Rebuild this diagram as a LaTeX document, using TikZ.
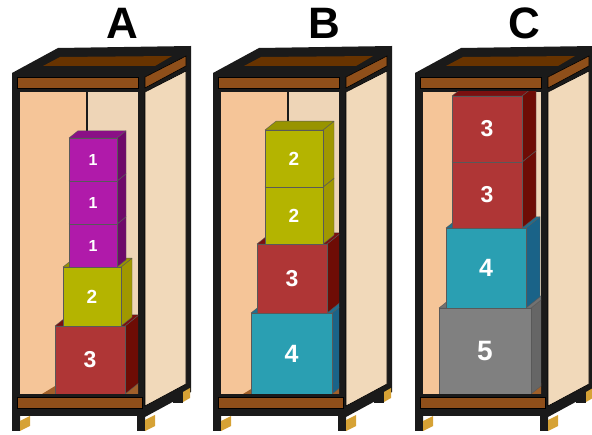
\documentclass[tikz,border=0pt]{standalone}
\usepackage{fontspec}
\setmainfont{Liberation Sans}

\definecolor{beamc}{HTML}{8F4F1A}
\definecolor{lidc}{HTML}{673300}
\definecolor{wallL}{HTML}{F5C598}
\definecolor{wallR}{HTML}{EED5B7}
\definecolor{sidec}{HTML}{F1D9BA}
\definecolor{floorc}{HTML}{A0602A}
\definecolor{legc}{HTML}{D6A235}
\definecolor{topc}{HTML}{1A1A1A}
\definecolor{magF}{HTML}{B01AAA}
\definecolor{magS}{HTML}{6E0A6A}
\definecolor{magT}{HTML}{8A1086}
\definecolor{olvF}{HTML}{B4B400}
\definecolor{olvS}{HTML}{A09800}
\definecolor{olvT}{HTML}{989400}
\definecolor{redF}{HTML}{AF3636}
\definecolor{redS}{HTML}{6E0C05}
\definecolor{redT}{HTML}{7A1010}
\definecolor{teaF}{HTML}{2A9FB2}
\definecolor{teaS}{HTML}{1A6388}
\definecolor{teaT}{HTML}{1F6F90}
\definecolor{gryF}{HTML}{808080}
\definecolor{gryS}{HTML}{666666}
\definecolor{gryT}{HTML}{727272}

\tikzset{
  beam/.style={fill=beamc, draw=black, line width=0.6pt},
  panel/.style={draw=black, line width=0.6pt},
  leg/.style={fill=legc},
  facet/.style={draw=black!65, line width=0.4pt, line join=round},
  num/.style={text=white, inner sep=0pt},
  title/.style={font=\fontsize{44}{44}\selectfont\bfseries}
}

% name, x, bottom, width, height, depth, colour, label, size
\newcommand{\crate}[9]{%
  \filldraw[facet, fill=#7S] (#2+#4,#3) -- (#2+#4+#6,#3-0.8*#6)
    -- (#2+#4+#6,#3-#5-0.8*#6) -- (#2+#4,#3-#5) -- cycle;
  \filldraw[facet, fill=#7T] (#2,#3-#5) -- (#2+#4,#3-#5)
    -- (#2+#4+#6,#3-#5-0.8*#6) -- (#2+#6,#3-#5-0.8*#6) -- cycle;
  \filldraw[facet, fill=#7F] (#2,#3) rectangle (#2+#4,#3-#5);
  \node[num, font=\fontsize{#9}{#9}\selectfont\bfseries] (#1) at (#2+0.5*#4,#3-0.5*#5) {#8};
}

\begin{document}
\begin{tikzpicture}[x=1pt, y=-1pt]
  \useasboundingbox (0,0) rectangle (592,435);

  \foreach \off/\lab/\tx in {0/A/122, 201/B/324, 403/C/524} {
    \node[title] (lbl\lab) at (\tx,23) {\lab};
    \begin{scope}[xshift=\off]
      % frame
      \fill[topc] (12,73) -- (58,48) -- (191,46) -- (191,392) -- (145,417)
        -- (145,431) -- (137,431) -- (137,416) -- (20,416) -- (20,431)
        -- (12,431) -- cycle;
      \fill[topc] (173,390) rectangle (183,403);
      \fill[lidc] (43,66) -- (60,57) -- (172,56) -- (155,66) -- cycle;
      \filldraw[beam] (17,77) rectangle (138,88);
      \filldraw[beam] (145,77) -- (186,56) -- (186,66) -- (145,88) -- cycle;
      % inside
      \fill[wallL] (20,92) rectangle (86,394);
      \fill[wallR] (88,92) rectangle (138,394);
      \fill[floorc] (42,394) -- (60,383) -- (138,383) -- (138,394) -- cycle;
      \filldraw[beam] (17,397) rectangle (142,408);
      \filldraw[panel, fill=sidec] (145,92) -- (186,71) -- (186,384)
        -- (145,406) -- cycle;
      % legs
      \fill[leg] (20,431) -- (20,421) -- (30,416) -- (30,426) -- cycle;
      \fill[leg] (145,431) -- (145,420) -- (155,415) -- (155,426) -- cycle;
      \fill[leg] (183,402) -- (183,392) -- (190,388) -- (190,398) -- cycle;
    \end{scope}
  }

  % boxes in A
  \begin{scope}
    \clip (20,92) rectangle (138,394);
    \crate{a3}{55}{394}{70}{68}{14}{red}{3}{23}
    \crate{a2}{63}{326}{58}{59}{11}{olv}{2}{19}
    \crate{a1}{69}{267}{48}{43}{9}{mag}{1}{16}
    \crate{a1b}{69}{224}{48}{43}{9}{mag}{1}{16}
    \crate{a1c}{69}{181}{48}{43}{9}{mag}{1}{16}
  \end{scope}

  % boxes in B
  \begin{scope}[xshift=201]
    \clip (20,92) rectangle (138,394);
    \crate{b4}{50}{394}{81}{81}{14}{tea}{4}{25}
    \crate{b3}{56}{313}{70}{69}{14}{red}{3}{23}
    \crate{b2}{64}{244}{58}{57}{11}{olv}{2}{19}
    \crate{b2b}{64}{187}{58}{57}{11}{olv}{2}{19}
  \end{scope}

  % boxes in C
  \begin{scope}[xshift=403]
    \clip (20,92) rectangle (138,394);
    \crate{c5}{36}{394}{92}{86}{15}{gry}{5}{28}
    \crate{c4}{43}{308}{80}{80}{14}{tea}{4}{25}
    \crate{c3}{49}{228}{70}{66}{14}{red}{3}{23}
    \crate{c3b}{49}{162}{70}{66}{14}{red}{3}{23}
  \end{scope}
\end{tikzpicture}
\end{document}
